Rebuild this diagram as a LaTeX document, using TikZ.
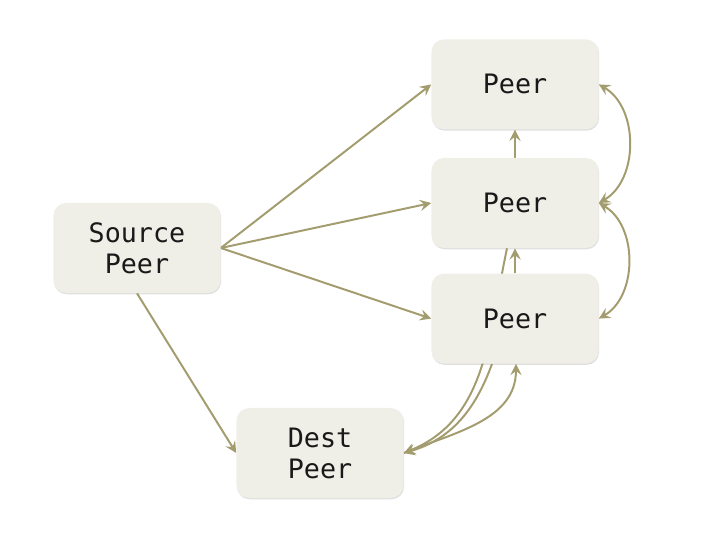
\documentclass[tikz,border=0pt]{standalone}
\usepackage{fontspec}
\setmonofont{DejaVu Sans Mono}
\usepackage{xcolor}
\usepackage{tikz}
\usetikzlibrary{arrows.meta, positioning, shadows, backgrounds}
\definecolor{peerfill}{HTML}{EFEEE7}
\definecolor{linkol}{HTML}{A39C6E}
\tikzset{
  peer/.style={rectangle, rounded corners=9pt, fill=peerfill, minimum width=4.175cm, minimum height=2.25cm, align=center, font=\ttfamily\fontsize{19}{22}\selectfont, text=black!90, drop shadow={opacity=0.25, shadow xshift=0.4pt, shadow yshift=-0.9pt}},
  arr/.style={-{Stealth[length=8pt, width=8pt, inset=3pt]}, line width=1.4pt, linkol},
  arrb/.style={{Stealth[length=8pt, width=8pt, inset=3pt]}-{Stealth[length=8pt, width=8pt, inset=3pt]}, line width=1.4pt, linkol},
}

\begin{document}
\begin{tikzpicture}[x=0.025cm, y=-0.025cm]
\useasboundingbox (0,0) rectangle (720,540);
\node[peer] (src) at (137,248) {Source\\Peer};
\node[peer] (p2) at (515,203) {Peer};
\node[peer, above=0.7cm of p2] (p1) {Peer};
\node[peer, below=0.625cm of p2] (p3) {Peer};
\node[peer] (dst) at (320,453) {Dest\\Peer};
\begin{scope}[on background layer]
\draw[arr] (src.east)--(p1.west); \draw[arr] (src.east)--(p2.west); \draw[arr] (src.east)--(p3.west);
\draw[arr] (src.south)--(dst.west);
\draw[arr] (p2.north)--(p1.south); \draw[arr] (p3.north)--(p2.south);
\draw[arrb] (p1.east) to[bend left=60] (p2.east);
\draw[arrb] (p2.east) to[bend left=60] (p3.east);
\draw[arr] ([xshift=-0.2cm]p2.south) to[out=-102, in=22] (dst.east);
\draw[arr] ([xshift=-0.575cm]p3.south) to[out=-110, in=16] (dst.east);
\draw[arr] (dst.east) to[out=22, in=-90] ([xshift=0.025cm]p3.south);
\end{scope}
\end{tikzpicture}
\end{document}
